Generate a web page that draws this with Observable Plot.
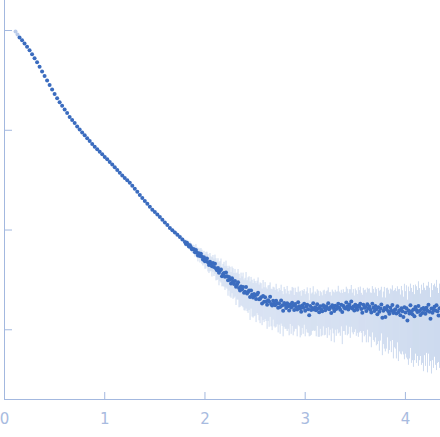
<!DOCTYPE html>
<html><head><meta charset="utf-8">
<script src="https://cdn.jsdelivr.net/npm/d3@7"></script>
<script src="https://cdn.jsdelivr.net/npm/@observablehq/plot@0.6"></script>
<style>body{margin:0;background:#fff}</style>
</head><body><div id="chart"></div>
<script>
const qExcluded = [0.11, 0.13];
const iExcluded = [975, 915];

const q = [
0.15,0.175,0.2,0.225,0.25,0.275,0.3,0.325,0.35,0.375,
0.4,0.425,0.45,0.475,0.5,0.525,0.55,0.575,0.6,0.625,
0.65,0.675,0.7,0.725,0.75,0.775,0.8,0.825,0.85,0.875,
0.9,0.925,0.95,0.975,1,1.025,1.05,1.075,1.1,1.125,
1.15,1.175,1.2,1.225,1.25,1.275,1.3,1.325,1.35,1.375,
1.4,1.425,1.45,1.475,1.5,1.525,1.55,1.575,1.6,1.625,
1.65,1.675,1.7,1.725,1.75,1.775,
1.8,1.81,1.82,1.83,1.84,1.85,1.86,1.87,1.88,1.89,
1.9,1.91,1.92,1.93,1.94,1.95,1.96,1.97,1.98,1.99,
2,2.01,2.02,2.03,2.04,2.05,2.06,2.07,2.08,2.09,
2.1,2.11,2.12,2.13,2.14,2.15,2.16,2.17,2.18,2.19,
2.2,2.21,2.22,2.23,2.24,2.25,2.26,2.27,2.28,2.29,
2.3,2.31,2.32,2.33,2.34,2.35,2.36,2.37,2.38,2.39,
2.4,2.41,2.42,2.43,2.44,2.45,2.46,2.47,2.48,2.49,
2.5,2.51,2.52,2.53,2.54,2.55,2.56,2.57,2.58,2.59,
2.6,2.61,2.62,2.63,2.64,2.65,2.66,2.67,2.68,2.69,
2.7,2.71,2.72,2.73,2.74,2.75,2.76,2.77,2.78,2.79,
2.8,2.81,2.82,2.83,2.84,2.85,2.86,2.87,2.88,2.89,
2.9,2.91,2.92,2.93,2.94,2.95,2.96,2.97,2.98,2.99,
3,3.01,3.02,3.03,3.04,3.05,3.06,3.07,3.08,3.09,
3.1,3.11,3.12,3.13,3.14,3.15,3.16,3.17,3.18,3.19,
3.2,3.21,3.22,3.23,3.24,3.25,3.26,3.27,3.28,3.29,
3.3,3.31,3.32,3.33,3.34,3.35,3.36,3.37,3.38,3.39,
3.4,3.41,3.42,3.43,3.44,3.45,3.46,3.47,3.48,3.49,
3.5,3.51,3.52,3.53,3.54,3.55,3.56,3.57,3.58,3.59,
3.6,3.61,3.62,3.63,3.64,3.65,3.66,3.67,3.68,3.69,
3.7,3.71,3.72,3.73,3.74,3.75,3.76,3.77,3.78,3.79,
3.8,3.81,3.82,3.83,3.84,3.85,3.86,3.87,3.88,3.89,
3.9,3.91,3.92,3.93,3.94,3.95,3.96,3.97,3.98,3.99,
4,4.01,4.02,4.03,4.04,4.05,4.06,4.07,4.08,4.09,
4.1,4.11,4.12,4.13,4.14,4.15,4.16,4.17,4.18,4.19,
4.2,4.21,4.22,4.23,4.24,4.25,4.26,4.27,4.28,4.29,
4.3,4.31,4.32,4.33,4.34
];

const intensity = [
851,798,743,689,634,579,528,481,434,389,
351,316,285,256,231,210,191,176,162,149,
136,127,118,109,102,95.1,88.9,83.2,78.0,73.0,
68.4,64.4,60.8,57.4,54.1,51.1,48.2,45.3,42.6,39.9,
37.5,35.3,33.3,31.5,29.7,27.8,25.9,24.2,22.5,21.0,
19.6,18.3,17.1,16.0,15.2,14.3,13.5,12.7,11.9,11.2,
10.5,9.93,9.42,8.95,8.49,8.04,
7.57,7.26,7.45,7.14,6.84,7.02,6.71,6.42,6.43,6.42,
6.00,6.32,5.93,5.57,5.85,5.49,5.78,5.41,5.07,5.32,
4.87,5.02,5.17,4.75,4.46,4.81,4.61,4.33,4.66,4.27,
4.60,4.12,3.95,4.16,3.73,3.93,4.03,3.45,3.62,3.71,
3.40,3.75,3.44,3.14,3.39,3.18,2.91,3.28,3.06,2.87,
3.08,2.70,2.85,3.00,2.63,2.47,2.72,2.55,2.68,2.35,
2.41,2.68,2.31,2.39,2.48,2.13,2.48,2.24,2.11,2.28,
2.21,2.04,2.26,2.35,2.02,2.05,2.12,1.83,2.18,1.91,
2.12,1.92,1.78,1.98,1.92,2.14,1.81,1.75,1.96,1.85,
1.76,1.96,1.83,1.66,1.85,1.69,1.97,1.75,1.55,1.86,
1.77,1.65,1.84,1.72,1.56,1.79,1.67,1.87,1.74,1.58,
1.81,1.69,1.60,1.89,1.72,1.63,1.52,1.75,1.66,1.82,
1.55,1.70,1.78,1.61,1.40,1.73,1.58,1.65,1.84,1.60,
1.68,1.57,1.80,1.64,1.50,1.72,1.60,1.53,1.76,1.68,
1.57,1.72,1.64,1.84,1.61,1.68,1.47,1.76,1.65,1.54,
1.74,1.62,1.70,1.82,1.66,1.59,1.78,1.51,1.74,1.66,
1.63,1.88,1.71,1.60,1.79,1.67,1.92,1.63,1.71,1.56,
1.78,1.66,1.59,1.74,1.70,1.82,1.62,1.48,1.78,1.66,
1.69,1.54,1.80,1.64,1.71,1.59,1.49,1.82,1.66,1.54,
1.73,1.61,1.43,1.68,1.52,1.63,1.79,1.32,1.55,1.65,
1.34,1.61,1.72,1.53,1.45,1.66,1.55,1.77,1.47,1.57,
1.61,1.46,1.72,1.50,1.57,1.40,1.64,1.53,1.34,1.68,
1.49,1.64,1.24,1.56,1.46,1.76,1.53,1.43,1.60,1.37,
1.69,1.58,1.51,1.73,1.54,1.41,1.62,1.47,1.65,1.58,
1.45,1.66,1.55,1.78,1.52,1.29,1.63,1.48,1.59,1.70,
1.56,1.76,1.53,1.39,1.64
];

const err = [
8.5,8.0,7.4,6.9,6.3,5.8,5.3,4.8,4.3,3.9,
3.5,3.2,2.9,2.6,2.3,2.1,1.9,1.8,1.6,1.5,
1.4,1.3,1.2,1.1,1.0,0.95,0.89,0.83,0.78,0.73,
0.68,0.64,0.61,0.57,0.54,0.51,0.48,0.45,0.43,0.40,
0.38,0.35,0.33,0.32,0.30,0.28,0.26,0.24,0.23,0.21,
0.39,0.37,0.34,0.32,0.30,0.29,0.27,0.25,0.36,0.34,
0.37,0.35,0.38,0.40,0.42,0.40,
0.45,0.51,0.45,0.57,0.48,0.56,0.60,0.51,0.64,0.58,
0.66,0.82,0.71,0.78,0.70,0.82,0.75,0.87,0.71,0.80,
0.83,0.95,0.83,0.95,0.80,1.01,0.78,0.95,0.89,0.85,
1.01,1.03,0.83,1.00,0.97,0.90,1.09,0.76,0.91,1.04,
0.92,1.13,0.89,0.97,0.95,1.05,0.84,0.98,1.04,0.80,
0.95,0.95,0.86,1.02,0.97,0.79,0.98,0.84,1.02,0.80,
0.87,1.07,0.79,0.93,0.92,0.89,0.87,0.90,0.80,0.93,
0.84,0.86,0.81,0.96,0.79,0.90,0.78,0.73,0.94,0.73,
0.85,0.71,0.77,0.77,0.86,0.81,0.74,0.77,0.71,0.78,
0.72,0.90,0.71,0.73,0.74,0.79,0.83,0.67,0.70,0.80,
0.76,0.64,0.88,0.71,0.69,0.66,0.77,0.79,0.87,0.63,
0.80,0.68,0.75,0.79,0.65,0.80,0.65,0.72,0.76,0.71,
0.70,0.70,0.85,0.69,0.55,0.87,0.70,0.69,0.86,0.64,
0.71,0.72,0.72,0.80,0.66,0.71,0.75,0.66,0.69,0.81,
0.69,0.69,0.82,0.79,0.74,0.69,0.71,0.74,0.74,0.80,
0.75,0.76,0.70,0.91,0.73,0.73,0.71,0.80,0.78,0.70,
0.75,0.79,0.84,0.70,0.73,0.85,0.86,0.70,0.82,0.62,
0.78,0.80,0.67,0.90,0.77,0.86,0.70,0.74,0.82,0.81,
0.81,0.80,0.81,0.90,0.86,0.75,0.83,0.89,0.88,0.79,
0.90,0.92,0.72,0.92,0.91,0.86,0.88,0.77,0.84,1.01,
0.74,0.97,0.89,0.96,0.83,0.90,0.96,0.99,0.96,0.91,
0.97,0.95,0.98,1.02,0.97,0.83,1.08,0.93,0.78,1.18,
0.92,1.12,0.74,1.12,0.95,1.11,1.07,0.94,1.18,0.88,
1.12,1.12,0.97,1.30,1.05,0.87,1.18,1.01,1.27,1.03,
1.02,1.08,1.18,1.21,1.09,0.81,1.27,0.99,1.18,1.17,
1.12,1.37,1.07,0.92,1.23
];

const xTicks = [0, 1, 2, 3, 4];
const yTicks = [1, 10, 100, 1000];

const points = q.map((v, i) => ({q: v, I: intensity[i], lo: intensity[i] - err[i], hi: intensity[i] + err[i]}));
const excluded = qExcluded.map((v, i) => ({q: v, I: iExcluded[i]}));

const axisColor = "#a3b8df";
const chart = Plot.plot({
  width: 440, height: 437,
  marginLeft: 4, marginRight: 0, marginTop: 0, marginBottom: 38,
  style: {fontFamily: "DejaVu Sans", background: "white", overflow: "visible"},
  x: {domain: [0, 4.35], label: null},
  y: {type: "log", domain: [0.2, 2000], axis: null, label: null},
  marks: [
    Plot.ruleX(points, {x: "q", y1: "lo", y2: "hi", stroke: "#cddaef", strokeWidth: 1}),
    Plot.dot(excluded, {x: "q", y: "I", r: 2, fill: "#b9cbea"}),
    Plot.dot(points, {x: "q", y: "I", r: 2, fill: "#3b6cbf"}),
    Plot.ruleX([0], {stroke: axisColor}),
    Plot.ruleY([0.2], {stroke: axisColor}),
    Plot.tickX(xTicks, {x: d => d, insetTop: 392, stroke: axisColor}),
    Plot.tickY(yTicks, {y: d => d, insetRight: 428, stroke: axisColor}),
    Plot.axisX(xTicks, {tickSize: 0, tickPadding: 14, fontSize: 15, color: "#a8bbe0", label: null})
  ]
});
document.getElementById("chart").appendChild(chart);
</script>
</body></html>
